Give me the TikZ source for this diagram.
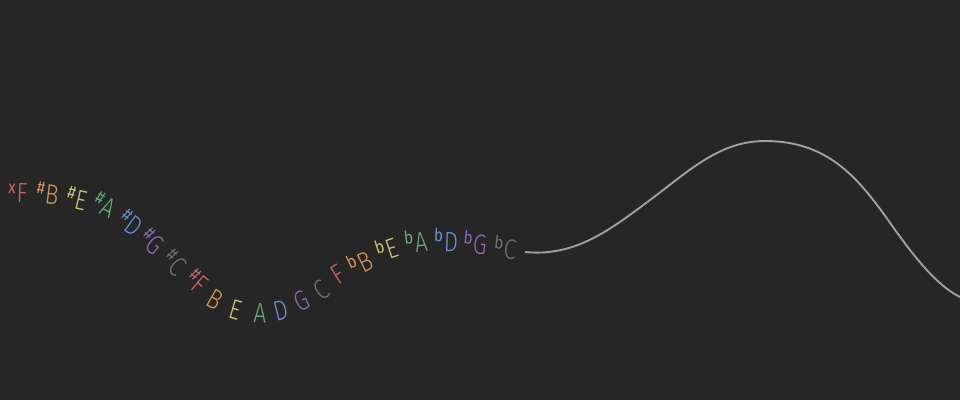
\documentclass[tikz,border=0pt]{standalone}
\usepackage{fontspec}
\setmainfont{Fira Sans}[UprightFont=* Light]
\newfontfamily\accfont{Fira Sans}
\definecolor{bgc}{HTML}{262626}
\definecolor{cred}{HTML}{CC6666}
\definecolor{corange}{HTML}{D6955A}
\definecolor{cyellow}{HTML}{C8C87A}
\definecolor{cgreen}{HTML}{6CAC7A}
\definecolor{cblue}{HTML}{6A8ED2}
\definecolor{cpurple}{HTML}{8E6CB8}
\definecolor{cgray}{HTML}{727272}
\definecolor{clinec}{HTML}{A0A0A0}
\newcommand\myacc[1]{\makebox[0pt][r]{\smash{\raisebox{9pt}{\accfont\fontsize{18}{18}\selectfont\scalebox{0.85}[1]{#1}}}\hspace{1pt}}}
\newcommand\myltr[1]{\scalebox{0.8}[1]{#1}}
\tikzset{
  note/.style={inner sep=0pt, outer sep=0pt, font=\fontsize{28}{28}\selectfont},
  curveline/.style={draw=clinec, line width=1.9pt}
}
\begin{document}
\begin{tikzpicture}[x=1pt,y=-1pt]
\fill[bgc] (0,0) rectangle (960,400);
\useasboundingbox (0,0) rectangle (960,400);
\node[note, text=cred,    rotate=-2]  (n1)  at (22,193)  {\myacc{x}\myltr{F}};
\node[note, text=corange, rotate=-7]  (n2)  at (52,195)  {\myacc{\#}\myltr{B}};
\node[note, text=cyellow, rotate=-13] (n3)  at (81,200)  {\myacc{\#}\myltr{E}};
\node[note, text=cgreen,  rotate=-26] (n4)  at (108,208) {\myacc{\#}\myltr{A}};
\node[note, text=cblue,   rotate=-36] (n5)  at (134,226) {\myacc{\#}\myltr{D}};
\node[note, text=cpurple, rotate=-41] (n6)  at (155,245) {\myacc{\#}\myltr{G}};
\node[note, text=cgray,   rotate=-42] (n7)  at (177,266) {\myacc{\#}\myltr{C}};
\node[note, text=cred,    rotate=-40] (n8)  at (200,285) {\myacc{\#}\myltr{F}};
\node[note, text=corange, rotate=-30] (n9)  at (215,300) {\myltr{B}};
\node[note, text=cyellow, rotate=-16] (n10) at (236,310) {\myltr{E}};
\node[note, text=cgreen,  rotate=-2]  (n11) at (260,313) {\myltr{A}};
\node[note, text=cblue,   rotate=14]  (n12) at (281,310) {\myltr{D}};
\node[note, text=cpurple, rotate=25]  (n13) at (302,301) {\myltr{G}};
\node[note, text=cgray,   rotate=33]  (n14) at (321,290) {\myltr{C}};
\node[note, text=cred,    rotate=32]  (n15) at (338,275) {\myltr{F}};
\node[note, text=corange, rotate=26]  (n16) at (365,262) {\myacc{b}\myltr{B}};
\node[note, text=cyellow, rotate=18]  (n17) at (392,249) {\myacc{b}\myltr{E}};
\node[note, text=cgreen,  rotate=7]   (n18) at (421,242) {\myacc{b}\myltr{A}};
\node[note, text=cblue,   rotate=-2]  (n19) at (451,242) {\myacc{b}\myltr{D}};
\node[note, text=cpurple, rotate=-6]  (n20) at (480,245) {\myacc{b}\myltr{G}};
\node[note, text=cgray,   rotate=-6]  (n21) at (510,250) {\myacc{b}\myltr{C}};
\draw[curveline] (525,252) .. controls (575,257) and (610,230) .. (650,200)
  .. controls (690,170) and (720,141) .. (765,141)
  .. controls (830,141) and (860,180) .. (893,227)
  .. controls (920,265) and (940,287) .. (960,297);
\end{tikzpicture}
\end{document}
